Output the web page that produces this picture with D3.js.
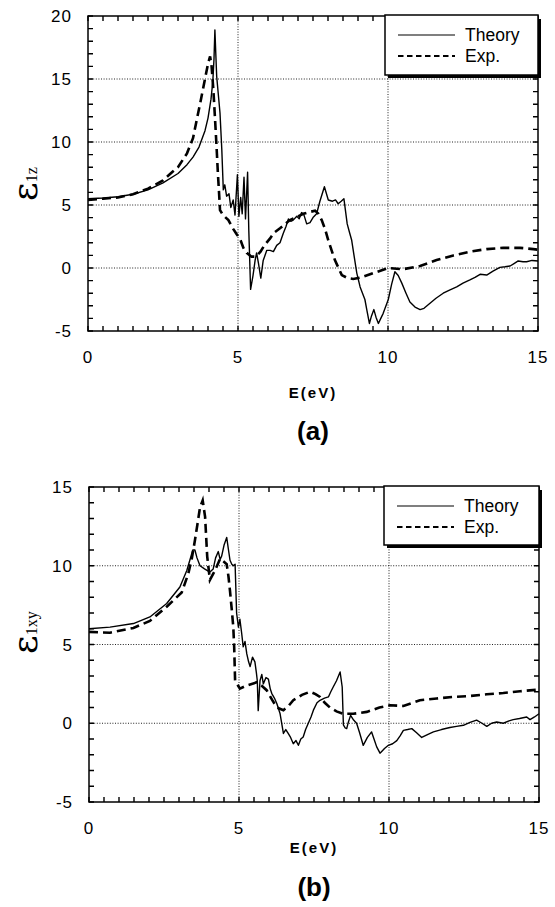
<!DOCTYPE html>
<html>
<head>
<meta charset="utf-8">
<script src="https://cdn.jsdelivr.net/npm/d3@7"></script>
<style>
  body { margin: 0; background: #fff; }
  svg { display: block; font-family: "Liberation Sans", Arial, sans-serif; }
</style>
</head>
<body>
<svg id="chart" width="555" height="907"></svg>
<script>
// x ticks and legend labels shared by both panels
const xTicks = [0, 5, 10, 15];
const seriesNames = ["Theory", "Exp."];

// (a) eps_1z
const topYTicks = [-5, 0, 5, 10, 15, 20];
const topTheory = [
  [0, 5.5], [0.5, 5.55], [1, 5.65], [1.5, 5.85], [2, 6.2], [2.5, 6.75], [3, 7.5], [3.3, 8.2],
  [3.5, 8.8], [3.7, 9.6], [3.9, 10.9], [4.0, 11.9], [4.1, 13.4], [4.16, 14.8], [4.2, 16.6],
  [4.23, 18.9], [4.26, 17.0], [4.29, 15.2], [4.4, 12.3], [4.46, 9.4], [4.51, 6.2], [4.56, 6.6],
  [4.62, 5.7], [4.7, 5.9], [4.76, 4.8], [4.84, 5.4], [4.9, 4.2], [4.98, 7.4], [5.03, 4.1],
  [5.09, 5.6], [5.14, 4.3], [5.2, 7.2], [5.25, 3.9], [5.32, 7.6], [5.36, 3.0], [5.42, -1.7],
  [5.5, -0.6], [5.57, 0.6], [5.62, 1.2], [5.68, 0.4], [5.76, -0.8], [5.84, 0.6], [5.96, 1.4],
  [6.07, 1.4], [6.18, 1.3], [6.29, 1.8], [6.4, 2.0], [6.51, 2.75], [6.6, 3.3], [6.68, 3.9],
  [6.76, 3.7], [6.84, 3.8], [6.96, 4.1], [7.04, 3.9], [7.12, 4.4], [7.2, 4.2], [7.29, 3.5],
  [7.4, 3.6], [7.5, 4.0], [7.62, 4.3], [7.73, 5.3], [7.88, 6.45], [8.01, 5.4], [8.15, 5.3],
  [8.25, 5.4], [8.34, 5.1], [8.44, 5.3], [8.53, 5.5], [8.64, 3.5], [8.72, 2.8], [8.79, 2.2],
  [8.88, 0.8], [8.96, -0.4], [9.07, -1.5], [9.15, -2.0], [9.23, -2.5], [9.3, -3.4],
  [9.38, -4.4], [9.45, -3.8], [9.53, -3.3], [9.6, -3.9], [9.68, -4.4], [9.76, -4.0],
  [9.84, -3.6], [10.01, -2.5], [10.12, -1.3], [10.23, -0.3], [10.34, -0.6], [10.46, -1.2],
  [10.6, -2.0], [10.73, -2.7], [10.9, -3.1], [11.07, -3.3], [11.2, -3.2], [11.4, -2.8],
  [11.6, -2.4], [11.84, -2.0], [12.05, -1.75], [12.29, -1.5], [12.5, -1.2], [12.73, -0.95],
  [12.9, -0.75], [13.07, -0.5], [13.29, -0.56], [13.5, -0.25], [13.73, 0.05], [13.9, 0.1],
  [14.07, 0.16], [14.2, 0.35], [14.34, 0.56], [14.5, 0.5], [14.62, 0.5], [14.8, 0.6], [15, 0.55]
];
const topExp = [
  [0, 5.4], [0.5, 5.5], [1, 5.6], [1.5, 5.85], [2, 6.3], [2.5, 6.95], [2.8, 7.6], [3, 8.0],
  [3.3, 9.1], [3.5, 10.3], [3.62, 11.7], [3.75, 13.2], [3.9, 15.0], [4.0, 16.2], [4.07, 16.8],
  [4.12, 16.0], [4.18, 14.1], [4.24, 11.6], [4.29, 9.4], [4.33, 7.5], [4.37, 5.9], [4.4, 4.6],
  [4.5, 4.2], [4.68, 3.8], [4.84, 3.1], [4.95, 2.7], [5.07, 2.3], [5.18, 1.6], [5.29, 1.2],
  [5.45, 0.9], [5.6, 0.9], [5.75, 1.3], [5.88, 1.8], [6.07, 2.35], [6.2, 2.8], [6.4, 3.15],
  [6.73, 3.8], [7.0, 4.1], [7.18, 4.3], [7.4, 4.45], [7.57, 4.55], [7.68, 4.3], [7.79, 3.8],
  [7.9, 3.1], [8.01, 2.2], [8.12, 1.4], [8.23, 0.63], [8.35, 0.0], [8.46, -0.56], [8.65, -0.8],
  [8.84, -0.87], [9.1, -0.75], [9.4, -0.5], [9.7, -0.25], [10.01, 0], [10.5, -0.1],
  [11.07, 0.16], [11.62, 0.63], [12.18, 1.0], [12.73, 1.3], [13.29, 1.5], [13.84, 1.6],
  [14.4, 1.6], [14.84, 1.5], [15, 1.45]
];

// (b) eps_1xy
const botYTicks = [-5, 0, 5, 10, 15];
const botTheory = [
  [0, 6.0], [0.7, 6.1], [1.48, 6.33], [2.03, 6.75], [2.59, 7.6], [3.03, 8.65], [3.26, 9.7],
  [3.4, 10.6], [3.46, 11.0], [3.53, 11.0], [3.6, 10.5], [3.7, 10.0], [3.85, 9.8], [4.03, 9.6],
  [4.14, 9.8], [4.22, 10.5], [4.31, 10.9], [4.37, 10.4], [4.42, 10.6], [4.5, 11.3],
  [4.59, 11.8], [4.65, 11.0], [4.7, 10.35], [4.76, 10.1], [4.81, 10.0], [4.87, 10.1],
  [4.92, 7.0], [4.98, 6.1], [5.03, 6.6], [5.09, 5.7], [5.14, 4.85], [5.2, 5.2], [5.26, 4.4],
  [5.32, 3.9], [5.37, 3.6], [5.45, 4.2], [5.53, 3.9], [5.58, 3.2], [5.61, 2.7], [5.64, 0.8],
  [5.7, 2.7], [5.76, 3.1], [5.81, 2.5], [5.9, 2.9], [5.98, 2.8], [6.04, 2.2], [6.09, 1.9],
  [6.18, 1.6], [6.26, 1.25], [6.37, 0.6], [6.48, -0.65], [6.56, -0.4], [6.64, -0.65],
  [6.72, -0.9], [6.81, -1.3], [6.9, -1.1], [6.98, -1.4], [7.06, -1.0], [7.14, -0.87],
  [7.22, -0.4], [7.31, 0], [7.4, 0.4], [7.48, 0.83], [7.6, 1.3], [7.7, 1.46], [7.85, 1.6],
  [7.98, 1.67], [8.06, 2.0], [8.14, 2.3], [8.25, 2.7], [8.37, 3.26], [8.44, 2.3],
  [8.48, -0.1], [8.54, -0.3], [8.59, -0.34], [8.65, 0.1], [8.72, 0.5], [8.82, 0.2],
  [8.92, 0], [9.02, -0.6], [9.14, -1.4], [9.28, -0.9], [9.42, -0.55], [9.5, -1.0],
  [9.59, -1.5], [9.7, -1.9], [9.85, -1.6], [9.98, -1.4], [10.12, -1.3], [10.26, -1.1],
  [10.37, -0.8], [10.48, -0.45], [10.62, -0.4], [10.76, -0.34], [10.92, -0.6], [11.09, -0.9],
  [11.3, -0.7], [11.48, -0.55], [11.75, -0.4], [12.03, -0.27], [12.25, -0.2], [12.48, -0.13],
  [12.7, 0.05], [12.92, 0.2], [13.1, 0.0], [13.26, -0.2], [13.42, 0.0], [13.59, 0.08],
  [13.81, 0], [14.0, 0.15], [14.14, 0.23], [14.35, 0.3], [14.59, 0.4], [14.7, 0.23],
  [14.85, 0.4], [15, 0.6]
];
const botExp = [
  [0, 5.8], [0.7, 5.75], [1.48, 6.05], [2.03, 6.5], [2.59, 7.4], [3.09, 8.3], [3.31, 9.5],
  [3.43, 10.5], [3.53, 11.6], [3.62, 12.7], [3.7, 13.7], [3.79, 14.15], [3.87, 13.1],
  [3.94, 10.6], [4.03, 9.1], [4.2, 9.7], [4.37, 10.45], [4.59, 10.1], [4.65, 9.3], [4.7, 8.4],
  [4.76, 7.2], [4.81, 6.1], [4.84, 4.8], [4.87, 2.7], [5.03, 2.2], [5.26, 2.4], [5.59, 2.6],
  [5.75, 2.4], [5.92, 2.1], [6.1, 1.5], [6.26, 1.0], [6.48, 0.83], [6.65, 1.1], [6.81, 1.46],
  [7.1, 1.8], [7.37, 2.0], [7.55, 1.85], [7.7, 1.67], [7.86, 1.3], [8.03, 1.0], [8.25, 0.75],
  [8.48, 0.6], [8.81, 0.6], [9.26, 0.72], [9.68, 1.0], [10.03, 1.14], [10.48, 1.1],
  [11.03, 1.46], [11.59, 1.57], [12.14, 1.67], [12.7, 1.73], [13.26, 1.84], [13.81, 1.92],
  [14.37, 2.03], [15, 2.14]
];

const svg = d3.select("#chart");

function drawPanel(p) {
  const x = d3.scaleLinear().domain([0, 15]).range([p.left, p.right]);
  const y = d3.scaleLinear().domain(p.yDomain).range([p.bottom, p.top]);
  const g = svg.append("g");

  // dotted grid at major values
  g.selectAll(".gx").data([5, 10]).enter().append("line")
    .attr("x1", d => x(d)).attr("x2", d => x(d))
    .attr("y1", p.top).attr("y2", p.bottom)
    .attr("stroke", "#222").attr("stroke-width", 1).attr("stroke-dasharray", "1,1.6");
  g.selectAll(".gy").data(p.yTicks.slice(1, -1)).enter().append("line")
    .attr("x1", p.left).attr("x2", p.right)
    .attr("y1", d => y(d)).attr("y2", d => y(d))
    .attr("stroke", "#222").attr("stroke-width", 1).attr("stroke-dasharray", "1,1.6");

  // minor ticks pointing inward on all four sides
  const tl = 5;
  const xt = d3.range(0, 31).map(i => i / 2);
  const yt = d3.range(p.yDomain[0], p.yDomain[1] + 1);
  let tickPath = "";
  xt.forEach(d => {
    tickPath += `M${x(d)},${p.bottom}V${p.bottom - tl}M${x(d)},${p.top}V${p.top + tl}`;
  });
  yt.forEach(d => {
    tickPath += `M${p.left},${y(d)}H${p.left + tl}M${p.right},${y(d)}H${p.right - tl}`;
  });
  g.append("path").attr("d", tickPath)
    .attr("fill", "none").attr("stroke", "#000").attr("stroke-width", 1.4);

  // curves
  const line = d3.line().x(d => x(d[0])).y(d => y(d[1]));
  g.append("path").datum(p.exp).attr("d", line)
    .attr("fill", "none").attr("stroke", "#000").attr("stroke-width", 2.6)
    .attr("stroke-dasharray", "9,5");
  g.append("path").datum(p.theory).attr("d", line)
    .attr("fill", "none").attr("stroke", "#000").attr("stroke-width", 1.4)
    .attr("stroke-linejoin", "round");

  // frame
  g.append("rect").attr("x", p.left).attr("y", p.top)
    .attr("width", p.right - p.left).attr("height", p.bottom - p.top)
    .attr("fill", "none").attr("stroke", "#000").attr("stroke-width", 1.5);

  // tick labels
  g.selectAll(".xl").data(xTicks).enter().append("text")
    .attr("x", d => x(d)).attr("y", p.bottom + 32)
    .attr("text-anchor", "middle").attr("font-size", 17).attr("letter-spacing", 1)
    .text(d => d);
  g.selectAll(".yl").data(p.yTicks).enter().append("text")
    .attr("x", p.left - 16).attr("y", d => y(d) + 6)
    .attr("text-anchor", "end").attr("font-size", 17).attr("letter-spacing", 1)
    .text(d => d);

  // axis titles
  g.append("text").attr("x", (p.left + p.right) / 2).attr("y", p.bottom + p.titleDy)
    .attr("text-anchor", "middle").attr("font-size", 15).attr("font-weight", "bold")
    .attr("letter-spacing", 2).text("E(eV)");
  g.append("text").attr("x", (p.left + p.right) / 2).attr("y", p.bottom + p.panelDy)
    .attr("text-anchor", "middle").attr("font-size", 26).attr("font-weight", "bold")
    .text(p.panel);

  const yl = g.append("text")
    .attr("transform", `translate(37,${p.labelY}) rotate(-90)`)
    .attr("font-family", "DejaVu Serif, serif");
  yl.append("tspan").attr("font-size", 36).text("\u03b5");
  yl.append("tspan").attr("font-size", 16).attr("dy", 0)
    .attr("font-family", "Liberation Serif, serif").text(p.sub);

  // legend with drop shadow
  const lg = g.append("g");
  const lw = p.right - p.legendLeft;
  lg.append("rect").attr("x", p.legendLeft + 3).attr("y", p.top + 3)
    .attr("width", lw).attr("height", p.legendH).attr("fill", "#000");
  lg.append("rect").attr("x", p.legendLeft).attr("y", p.top - 1)
    .attr("width", lw).attr("height", p.legendH + 1)
    .attr("fill", "#fff").attr("stroke", "#000").attr("stroke-width", 1.5);
  seriesNames.forEach((name, i) => {
    const ly = p.top + 19 + i * 21;
    lg.append("line").attr("x1", p.legendLeft + 13).attr("x2", p.legendLeft + 70)
      .attr("y1", ly).attr("y2", ly).attr("stroke", "#000")
      .attr("stroke-width", i ? 2 : 1.2).attr("stroke-dasharray", i ? "5.5,3.5" : null);
    lg.append("text").attr("x", p.legendLeft + 80).attr("y", ly + 6)
      .attr("font-size", 17.5).text(name);
  });
}

drawPanel({
  left: 88, right: 538, top: 16, bottom: 331, yDomain: [-5, 20], yTicks: topYTicks,
  theory: topTheory, exp: topExp, panel: "(a)", titleDy: 67, panelDy: 109, sub: "1z",
  labelY: 201, legendLeft: 385, legendH: 59
});
drawPanel({
  left: 89, right: 539, top: 487, bottom: 802, yDomain: [-5, 15], yTicks: botYTicks,
  theory: botTheory, exp: botExp, panel: "(b)", titleDy: 51, panelDy: 94, sub: "1xy",
  labelY: 654, legendLeft: 384, legendH: 58
});
</script>
</body>
</html>
